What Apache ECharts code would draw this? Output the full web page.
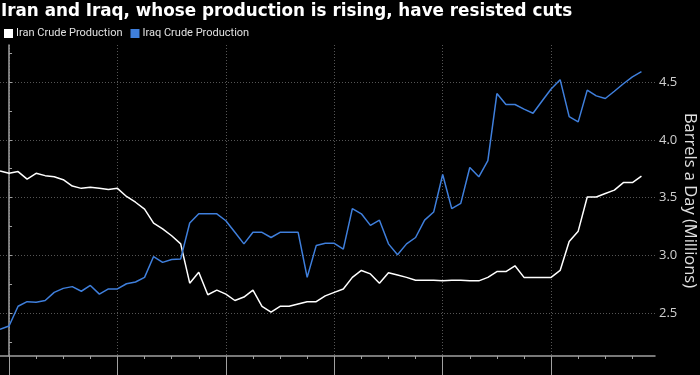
<!DOCTYPE html>
<html>
<head>
<meta charset="utf-8">
<script src="https://cdn.jsdelivr.net/npm/echarts@6/dist/echarts.min.js"></script>
<style>
html,body{margin:0;padding:0;background:#000;}
#c{width:700px;height:375px;}
</style>
</head>
<body>
<div id="c"></div>
<script>
// month index (0 = first January shown, one month before = -1)
var firstMonth = -1;
var iranCrude = [3.73,3.71,3.725,3.66,3.71,3.69,3.68,3.655,3.60,3.58,3.59,3.58,3.57,3.58,3.51,3.46,3.40,3.28,3.23,3.17,3.10,2.76,2.855,2.66,2.70,2.665,2.61,
  2.64,2.70,2.56,2.51,2.56,2.56,2.58,2.60,2.60,2.65,2.68,2.71,2.81,2.87,2.84,2.76,2.85,2.83,2.81,2.785,2.785,2.785,2.78,2.785,2.785,
  2.78,2.78,2.81,2.86,2.86,2.91,2.81,2.81,2.81,2.81,2.87,3.12,3.21,3.505,3.505,3.535,3.565,3.63,3.63,3.685];
var iraqCrude = [2.36,2.39,2.56,2.60,2.595,2.61,2.68,2.715,2.73,2.69,2.74,2.665,2.71,2.71,2.755,2.77,2.81,2.99,2.94,2.965,2.97,3.28,3.36,3.36,3.36,3.30,3.20,
  3.10,3.20,3.20,3.155,3.20,3.20,3.20,2.81,3.085,3.105,3.105,3.055,3.405,3.36,3.26,3.305,3.10,3.005,3.10,3.155,3.305,3.375,3.70,3.405,3.45,
  3.76,3.68,3.82,4.40,4.305,4.305,4.265,4.23,4.335,4.44,4.52,4.20,4.155,4.43,4.38,4.357,4.42,4.485,4.545,4.59];
var yLabels = [2.5,3.0,3.5,4.0,4.5];
var yMinorTicks = [2.25,2.75,3.25,3.75,4.25,4.75];
var yearTicks = [0,12,24,36,48,60];
var quarterTicks = [3,6,9,15,18,21,27,30,33,39,42,45,51,54,57,63,66,69];

function pairs(arr){ return arr.map(function(v,i){ return [firstMonth+i, v]; }); }

var chart = echarts.init(document.getElementById('c'), null, {renderer:'canvas'});
var axisColor = '#a0a0a0';
chart.setOption({
  backgroundColor:'#000',
  animation:false,
  title:{
    text:'Iran and Iraq, whose production is rising, have resisted cuts',
    left:1, top:3, padding:[0,0,0,0],
    textStyle:{color:'#fff', fontSize:16.8, fontWeight:'bold', fontFamily:'DejaVu Sans'}
  },
  legend:{
    left:4, top:28, padding:0, itemWidth:9, itemHeight:9, itemGap:8, icon:'rect',
    textStyle:{color:'#e0e0e0', fontSize:11, fontFamily:'Roboto', padding:[0,0,0,-2]},
    data:['Iran Crude Production','Iraq Crude Production']
  },
  grid:{left:0, right:45, top:45, bottom:19, containLabel:false, outerBoundsMode:'none'},
  xAxis:[{
    type:'value', min:-1, max:71.5,
    axisLine:{show:true, lineStyle:{color:axisColor, width:1.5}},
    axisTick:{show:true, customValues:yearTicks, length:20, lineStyle:{color:axisColor, width:1}},
    axisLabel:{show:false, customValues:yearTicks},
    splitLine:{show:true, lineStyle:{color:'#555', type:[1,2], width:1}}
  },{
    type:'value', min:-1, max:71.5, position:'bottom',
    axisLine:{show:false},
    axisTick:{show:true, customValues:quarterTicks, length:3, lineStyle:{color:axisColor, width:1}},
    axisLabel:{show:false, customValues:quarterTicks},
    splitLine:{show:false}
  }],
  yAxis:[{
    type:'value', min:2.13, max:4.82, position:'right',
    name:'Barrels a Day (Millions)', nameLocation:'middle', nameRotate:-90, nameGap:26, nameMoveOverlap:false,
    nameTextStyle:{color:'#e0e0e0', fontSize:16.5, fontFamily:'Open Sans'},
    axisLine:{show:true, lineStyle:{color:axisColor, width:1.5}},
    axisTick:{show:true, customValues:yLabels, length:3, lineStyle:{color:axisColor}},
    axisLabel:{show:true, customValues:yLabels, color:'#d0d0d0', fontSize:13, fontFamily:'Open Sans', margin:4,
      formatter:function(v){ return v.toFixed(1); }},
    splitLine:{show:true, lineStyle:{color:'#555', type:[1,2], width:1}}
  },{
    type:'value', min:2.13, max:4.82, position:'right',
    axisLine:{show:false},
    axisTick:{show:true, customValues:yMinorTicks, length:3, lineStyle:{color:axisColor}},
    axisLabel:{show:false, customValues:yMinorTicks},
    splitLine:{show:false}
  }],
  series:[{
    name:'Iran Crude Production', type:'line', data:pairs(iranCrude),
    showSymbol:false, symbol:'none', lineStyle:{color:'#ffffff', width:1.5}, itemStyle:{color:'#ffffff'}
  },{
    name:'Iraq Crude Production', type:'line', data:pairs(iraqCrude),
    showSymbol:false, symbol:'none', lineStyle:{color:'#3f7fdc', width:1.5}, itemStyle:{color:'#3f7fdc'}
  }]
});
</script>
</body>
</html>
